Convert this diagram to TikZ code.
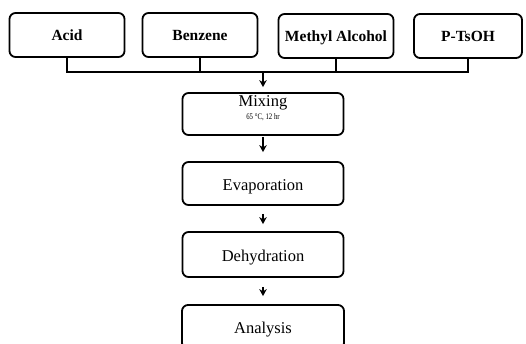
\documentclass[tikz,border=0pt]{standalone}
\usepackage{fontspec}
\setmainfont{Liberation Serif}
\usetikzlibrary{arrows.meta}
\begin{document}
\begin{tikzpicture}[x=1pt,y=-1pt,
  inbox/.style={draw=black,line width=1.8pt,rounded corners=6pt,minimum width=115pt,minimum height=44pt,inner sep=0pt,text height=11pt,text depth=0pt,font=\fontsize{15.5}{17}\selectfont\bfseries},
  stepbox/.style={draw=black,line width=1.8pt,rounded corners=6pt,minimum width=161pt,minimum height=43pt,inner sep=0pt,text height=14pt,text depth=1pt,font=\fontsize{16.5}{18}\selectfont},
  link/.style={line width=1.8pt},
  flow/.style={line width=1.8pt,-{Stealth[length=7pt,width=7.5pt]}}]
\useasboundingbox (0,0) rectangle (526,343);
% input boxes
\node[inbox] (acid) at (67,35) {Acid};
\node[inbox] (benz) at (200,35) {Benzene};
\node[inbox] (meth) at (336,36) {Methyl Alcohol};
\node[inbox,minimum width=108pt] (tsoh) at (468,36) {P-TsOH};
% process boxes
\node[stepbox,minimum height=42pt] (mix) at (263,114) {};
\node[font=\fontsize{16.5}{18}\selectfont,inner sep=0pt,anchor=base] (mixt) at (263,106.5) {Mixing};
\node[font=\fontsize{8.5}{9}\selectfont,inner sep=0pt,anchor=base] (mixc) at (263,119) {\scalebox{0.8}[1]{65 °C, 12 hr}};
\node[stepbox] (evap) at (263,183.5) {Evaporation};
\node[stepbox,minimum height=45pt] (dehy) at (263,254.5) {Dehydration};
\node[stepbox,minimum height=44pt,minimum width=162pt] (anal) at (263,327) {Analysis};
% collector bracket
\coordinate (bl) at (acid.south |- 0,72);
\coordinate (br) at (tsoh.south |- 0,72);
\coordinate (bm) at (mix.north |- 0,72);
\draw[link] (acid.south) -- (bl) -- (br) -- (tsoh.south);
\draw[link] (benz.south) -- (benz.south |- bl);
\draw[link] (meth.south) -- (meth.south |- bl);
% arrows
\draw[flow,shorten >=5pt] (bm) -- (mix.north);
\draw[flow,shorten <=1pt,shorten >=9pt] (mix.south) -- (evap.north);
\draw[flow,shorten <=8pt,shorten >=7pt] (evap.south) -- (dehy.north);
\draw[flow,shorten <=9pt,shorten >=8pt] (dehy.south) -- (anal.north);
\end{tikzpicture}
\end{document}
